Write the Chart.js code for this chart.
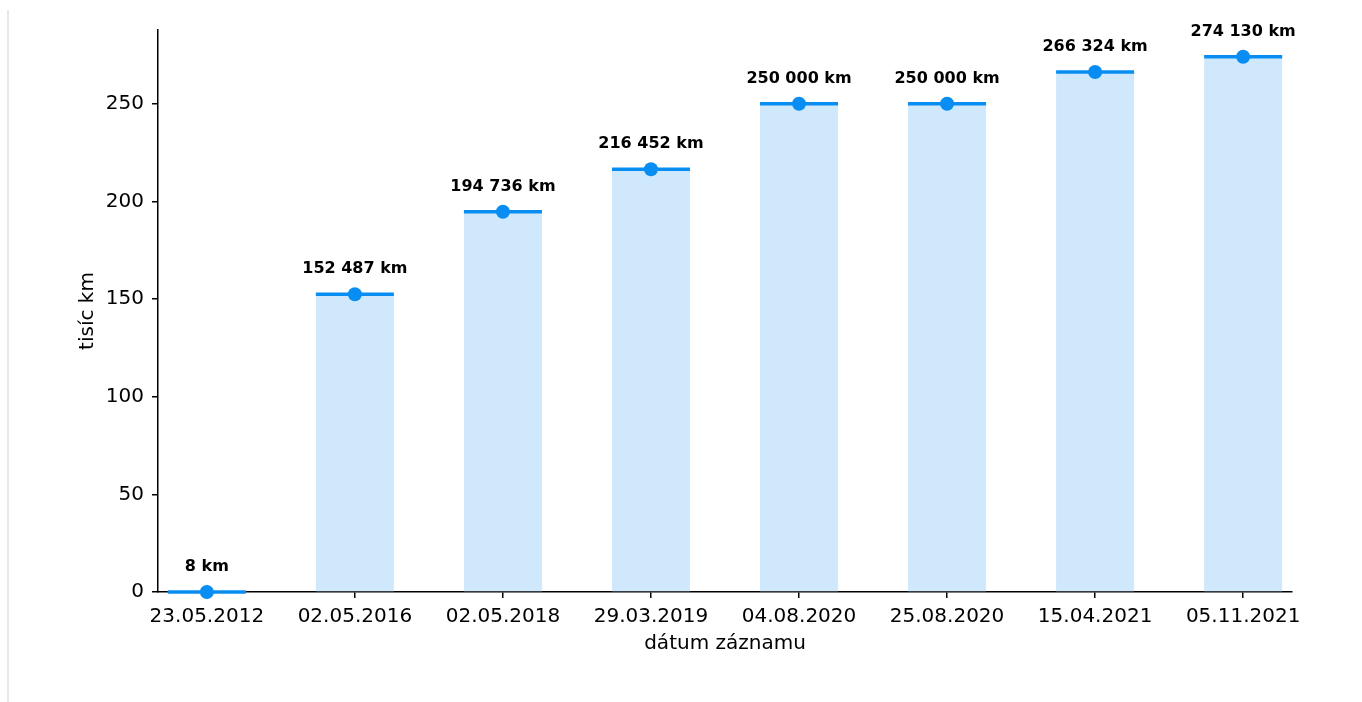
<!DOCTYPE html>
<html>
<head>
<meta charset="utf-8">
<script src="https://cdn.jsdelivr.net/npm/chart.js@4.4.1/dist/chart.umd.min.js"></script>
<style>
  body { margin: 0; background: #fff; }
  #wrap { position: relative; width: 1362px; height: 702px; }
  #edge { position: absolute; left: 7px; top: 10px; width: 2px; height: 692px; background: #e8e8e8; }
  canvas { position: absolute; left: 0; top: 0; }
</style>
</head>
<body>
<div id="wrap">
  <div id="edge"></div>
  <canvas id="chart" width="1362" height="702"></canvas>
</div>
<script>
const dates = ["23.05.2012", "02.05.2016", "02.05.2018", "29.03.2019", "04.08.2020", "25.08.2020", "15.04.2021", "05.11.2021"]
const distanceKm = [8, 152487, 194736, 216452, 250000, 250000, 266324, 274130]
const yTicks = [0, 50, 100, 150, 200, 250]
const yMax = 287.8

const fillBlue = "rgb(207, 232, 252)"
const lineBlue = "rgb(8, 142, 242)"
const font = "'DejaVu Sans', sans-serif"

const points = distanceKm.map((v, i) => ({ x: i, y: v / 1000 }))
const fmt = v => v.toString().replace(/\B(?=(\d{3})+(?!\d))/g, " ") + " km"

const barExtras = {
    id: "barExtras",
    afterDatasetDraw(chart, args) {
        if (args.index !== 0) return
        const ctx = chart.ctx
        ctx.save()
        ctx.strokeStyle = lineBlue
        ctx.lineWidth = 3.5
        args.meta.data.forEach(bar => {
            ctx.beginPath()
            ctx.moveTo(bar.x - bar.width / 2, bar.y)
            ctx.lineTo(bar.x + bar.width / 2, bar.y)
            ctx.stroke()
        })
        ctx.restore()
    },
    afterDatasetsDraw(chart) {
        const ctx = chart.ctx
        const meta = chart.getDatasetMeta(0)
        ctx.save()
        ctx.font = "bold 16px " + font
        ctx.fillStyle = "#000"
        ctx.textAlign = "center"
        ctx.textBaseline = "middle"
        meta.data.forEach((bar, i) => {
            ctx.fillText(fmt(distanceKm[i]), bar.x, bar.y - 25)
        })
        ctx.restore()
    }
}

new Chart(document.getElementById("chart"), {
    type: "bar",
    data: {
        datasets: [
            {
                type: "bar",
                data: points,
                backgroundColor: fillBlue,
                borderWidth: 0,
                barPercentage: 0.527,
                categoryPercentage: 1,
                order: 1,
            },
            {
                type: "line",
                data: points,
                showLine: false,
                pointRadius: 7,
                pointBackgroundColor: lineBlue,
                pointBorderWidth: 0,
                clip: false,
                order: 0,
            },
        ],
    },
    options: {
        responsive: false,
        animation: false,
        devicePixelRatio: 1,
        layout: { padding: { left: 70, right: 70, top: 30, bottom: 43 } },
        plugins: { legend: { display: false }, tooltip: { enabled: false } },
        scales: {
            x: {
                type: "linear",
                min: -0.33,
                max: 7.33,
                offset: false,
                afterBuildTicks: s => { s.ticks = dates.map((_, i) => ({ value: i })) },
                afterFit: s => { s.height = 67 },
                ticks: {
                    callback: v => dates[v],
                    autoSkip: false,
                    maxRotation: 0,
                    padding: 7,
                    color: "#000",
                    font: { family: font, size: 20 },
                },
                grid: { offset: false, drawOnChartArea: false, tickLength: 6, color: "#000", lineWidth: 1.5 },
                border: { color: "#000", width: 1.5 },
                title: {
                    display: true,
                    text: "dátum záznamu",
                    color: "#000",
                    font: { family: font, size: 20 },
                    padding: { top: 0, bottom: 3 },
                },
            },
            y: {
                min: 0,
                max: yMax,
                afterBuildTicks: s => { s.ticks = yTicks.map(v => ({ value: v })) },
                afterFit: s => { s.width = 88 },
                ticks: {
                    padding: 8,
                    color: "#000",
                    font: { family: font, size: 20 },
                },
                grid: { drawOnChartArea: false, tickLength: 6, color: "#000", lineWidth: 1.5 },
                border: { color: "#000", width: 1.5 },
                title: {
                    display: true,
                    text: "tisíc km",
                    color: "#000",
                    font: { family: font, size: 20 },
                    padding: { top: 6, bottom: 0 },
                },
            },
        },
    },
    plugins: [barExtras],
})
</script>
</body>
</html>
